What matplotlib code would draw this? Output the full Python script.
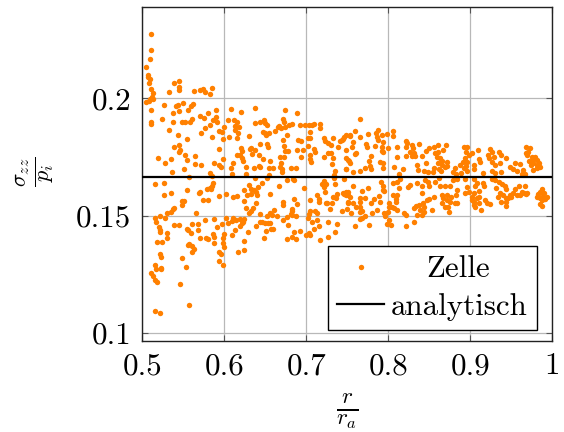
import matplotlib
matplotlib.use('Agg')
import matplotlib.pyplot as plt

plt.rcParams['font.family'] = ['cmr10', 'DejaVu Serif']
plt.rcParams['mathtext.fontset'] = 'cm'
plt.rcParams['axes.formatter.use_mathtext'] = True

# (r/r_a, sigma_zz/p_i)
zelle = [
    (.510,.2273),(.510,.2205),(.509,.2168),(.505,.2134),(.507,.2098),(.507,.2091),(.509,.2084),(.508,.2064),
    (.511,.2038),(.513,.2021),(.512,.2007),(.509,.1999),(.513,.1996),(.505,.1983),(.508,.1990),(.510,.1950),
    (.510,.1899),(.510,.1892),(.533,.2026),(.539,.2063),(.545,.2074),(.545,.2047),(.545,.2036),(.563,.2030),
    (.570,.2036),(.574,.2041),(.576,.2028),(.585,.2044),(.583,.2018),(.527,.1970),(.541,.1966),(.544,.1970),
    (.550,.1982),(.537,.1936),(.545,.1945),(.556,.1949),(.559,.1969),(.562,.1976),(.590,.1949),(.608,.1953),
    (.620,.1942),(.638,.1957),(.674,.1949),(.689,.1937),(.524,.1910),(.537,.1899),(.533,.1866),(.548,.1899),
    (.552,.1899),(.558,.1898),(.560,.1910),(.570,.1926),(.575,.1916),(.580,.1937),(.586,.1909),(.590,.1919),
    (.591,.1899),(.576,.1875),(.582,.1885),(.572,.1851),(.544,.1845),(.555,.1828),(.585,.1835),(.593,.1859),
    (.597,.1855),(.600,.1878),(.598,.1825),(.605,.1908),(.612,.1908),(.616,.1898),(.613,.1883),(.618,.1879),
    (.613,.1865),(.617,.1851),(.615,.1831),(.606,.1837),(.630,.1841),(.638,.1893),(.644,.1901),(.648,.1906),
    (.650,.1896),(.652,.1886),(.647,.1858),(.651,.1844),(.654,.1852),(.650,.1854),(.662,.1859),(.665,.1878),
    (.667,.1883),(.671,.1910),(.673,.1898),(.669,.1872),(.674,.1878),(.679,.1886),(.683,.1892),(.677,.1844),
    (.692,.1888),(.698,.1885),(.703,.1886),(.707,.1886),(.709,.1892),(.717,.1891),(.717,.1872),(.704,.1855),
    (.702,.1829),(.705,.1829),(.690,.1824),(.694,.1817),(.721,.1831),(.733,.1832),(.723,.1818),(.726,.1811),
    (.730,.1802),(.739,.1791),(.741,.1817),(.743,.1822),(.746,.1837),(.749,.1842),(.745,.1825),(.753,.1844),
    (.748,.1780),(.539,.1794),(.545,.1801),(.546,.1780),(.545,.1770),(.552,.1757),(.555,.1737),(.564,.1756),
    (.564,.1722),(.572,.1716),(.587,.1724),(.594,.1717),(.596,.1707),(.519,.1744),(.528,.1724),(.535,.1741),
    (.551,.1699),(.536,.1687),(.5565,.1665),(.582,.1682),(.585,.1670),(.593,.1785),(.599,.1741),(.608,.1702),
    (.611,.1726),(.609,.1679),(.615,.1758),(.620,.1787),(.622,.1776),(.619,.1758),(.621,.1744),(.623,.1734),
    (.627,.1706),(.627,.1679),(.632,.1790),(.631,.1783),(.634,.1764),(.638,.1781),(.642,.1757),(.644,.1807),
    (.652,.1805),(.653,.1793),(.647,.1740),(.636,.1702),(.642,.1713),(.643,.1709),(.656,.1733),(.654,.1702),
    (.659,.1704),(.638,.1662),(.655,.1673),(.668,.1751),(.673,.1750),(.672,.1821),(.673,.1798),(.674,.1777),
    (.678,.1777),(.669,.1723),(.668,.1709),(.670,.1699),(.670,.1686),(.681,.1702),(.687,.1704),(.689,.1778),
    (.696,.1781),(.693,.1749),(.702,.1798),(.704,.1757),(.705,.1740),(.706,.1727),(.709,.1783),(.711,.1773),
    (.721,.1751),(.727,.1766),(.730,.1768),(.733,.1746),(.731,.1719),(.735,.1689),(.734,.1673),(.748,.1744),
    (.751,.1737),(.749,.1699),(.734,.1659),(.684,.1656),
    (.516,.1633),(.527,.1640),(.527,.1586),(.535,.1595),(.554,.1608),(.570,.1602),(.5695,.1595),(.579,.1612),
    (.583,.1616),(.585,.1628),(.586,.1638),(.584,.1613),(.594,.1582),(.602,.1591),(.610,.1579),(.616,.1582),
    (.624,.1564),(.624,.1609),(.630,.1630),(.628,.1586),(.632,.1592),(.633,.1612),(.636,.1608),(.639,.1601),
    (.640,.1588),(.641,.1621),(.646,.1640),(.652,.1660),(.656,.1591),(.667,.1625),(.676,.1653),(.685,.1653),
    (.697,.1619),(.719,.1635),(.722,.1649),(.724,.1635),(.722,.1621),(.723,.1602),(.735,.1633),(.734,.1666),
    (.713,.1588),(.715,.1572),(.715,.1559),(.705,.1566),(.725,.1556),(.724,.1552),(.732,.1581),(.731,.1556),
    (.736,.1574),(.737,.1592),(.746,.1593),(.749,.1602),(.751,.1588),(.751,.1552),(.744,.1520),(.750,.1528),
    (.729,.1528),(.548,.1562),(.551,.1561),(.548,.1545),(.574,.1568),(.580,.1568),(.639,.1555),(.671,.1559),
    (.672,.1545),(.685,.1571),(.689,.1551),(.626,.1534),(.635,.1531),(.633,.1521),(.630,.1510),(.661,.1525),
    (.656,.1510),(.652,.1498),(.644,.1508),(.664,.1500),(.658,.1503),(.683,.1528),(.682,.1518),(.681,.1508),
    (.683,.1503),(.688,.1500),(.676,.1495),(.671,.1480),(.678,.1459),(.704,.1521),(.703,.1508),(.702,.1491),
    (.711,.1520),(.713,.1510),(.707,.1473),(.713,.1481),(.716,.1454),(.726,.1474),(.737,.1464),(.709,.1442),
    (.703,.1424),(.700,.1416),(.704,.1419),(.735,.1429),(.727,.1409),(.717,.1397),(.692,.1433),(.685,.1429),
    (.682,.1407),(.677,.1400),(.688,.1399),(.659,.1443),(.657,.1443),(.651,.1434),(.648,.1403),(.639,.1457),
    (.644,.1474),(.646,.1471),(.650,.1470),(.653,.1467),(.656,.1467),(.629,.1430),(.613,.1439),(.609,.1419),
    (.619,.1456),(.621,.1467),(.624,.1484),(.623,.1473),(.619,.1484),(.614,.1481),(.610,.1491),(.609,.1478),
    (.605,.1470),(.602,.1491),(.597,.1463),(.591,.1453),(.588,.1485),(.577,.1483),(.565,.1510),(.561,.1463),
    (.568,.1463),(.568,.1437),(.554,.1444),(.556,.1439),(.559,.1427),(.539,.1460),(.545,.1460),(.530,.1427),
    (.530,.1404),(.521,.1438),(.520,.1453),(.522,.1429),(.517,.1474),(.516,.1491),(.521,.1497),(.528,.1491),
    (.530,.1510),(.535,.1514),(.537,.1528),(.539,.1534),(.518,.1389),(.524,.1389),(.522,.1336),(.523,.1322),
    (.515,.1291),(.517,.1272),(.523,.1278),(.523,.1272),(.511,.1257),(.513,.1243),(.516,.1225),(.518,.1218),
    (.546,.1210),(.548,.1321),(.553,.1281),(.557,.1380),(.556,.1375),(.561,.1370),(.563,.1356),(.561,.1345),
    (.570,.1403),(.578,.1403),(.580,.1400),(.586,.1420),(.587,.1410),(.587,.1383),(.598,.1403),(.600,.1420),
    (.599,.1382),(.600,.1368),(.594,.1345),(.596,.1335),(.594,.1305),(.598,.1289),(.617,.1346),(.624,.1355),
    (.624,.1393),(.515,.1095),(.521,.1086),(.557,.1118),
    (.766,.1913),(.759,.1859),(.765,.1835),(.775,.1848),(.785,.1853),(.787,.1865),(.792,.1843),(.798,.1846),
    (.806,.1859),(.806,.1841),(.786,.1834),(.788,.1822),(.793,.1815),(.773,.1804),(.774,.1794),(.784,.1797),
    (.792,.1794),(.792,.1777),(.793,.1772),(.800,.1787),(.779,.1754),(.776,.1731),(.778,.1713),(.779,.1697),
    (.772,.1701),(.765,.1689),(.757,.1684),(.790,.1727),(.793,.1723),(.794,.1704),(.756,.1791),(.761,.1768),
    (.759,.1761),(.757,.1815),(.753,.1839),(.752,.1733),(.753,.1723),(.748,.1697),(.807,.1706),(.810,.1751),
    (.811,.1791),(.821,.1819),(.823,.1808),(.821,.1791),(.821,.1755),(.829,.1801),(.837,.1804),(.830,.1787),
    (.827,.1772),(.831,.1765),(.829,.1754),(.833,.1754),(.841,.1754),(.846,.1774),(.850,.1790),(.856,.1794),
    (.861,.1800),(.870,.1802),(.835,.1717),(.846,.1723),(.836,.1694),(.843,.1692),(.849,.1687),(.818,.1697),
    (.813,.1677),(.856,.1702),(.855,.1687),(.862,.1699),(.869,.1708),(.872,.1711),(.864,.1690),(.857,.1768),
    (.861,.1773),(.867,.1780),(.859,.1751),(.863,.1744),(.865,.1733),(.871,.1730),(.861,.1723),(.865,.1716),
    (.881,.1701),(.879,.1687),(.883,.1677),(.892,.1701),(.889,.1683),(.896,.1692),(.892,.1791),(.896,.1791),
    (.895,.1773),(.898,.1758),(.902,.1765),(.894,.1744),(.891,.1730),(.888,.1716),(.896,.1730),(.895,.1711),
    (.909,.1780),(.910,.1740),(.912,.1728),(.905,.1717),(.904,.1699),(.915,.1683),(.924,.1782),(.927,.1773),
    (.922,.1758),(.929,.1751),(.923,.1744),(.926,.1730),(.930,.1716),(.935,.1773),(.938,.1758),(.943,.1744),
    (.936,.1723),(.938,.1687),(.927,.1690),(.930,.1680),(.955,.1723),(.949,.1708),(.961,.1720),(.952,.1699),
    (.957,.1690),(.964,.1694),(.967,.1677),(.963,.1677),(.968,.1794),(.973,.1787),(.970,.1773),(.968,.1765),
    (.975,.1751),(.979,.1748),(.981,.1737),(.984,.1726),(.985,.1709),(.981,.1701),(.977,.1694),(.974,.1716),
    (.977,.1726),(.972,.1733),(.969,.1758),(.977,.1740),(.981,.1716),
    (.746,.1657),(.757,.1628),(.775,.1616),(.768,.1603),(.751,.1602),(.745,.1595),(.749,.1588),(.753,.1581),
    (.765,.1574),(.772,.1576),(.765,.1559),(.751,.1559),(.757,.1552),(.760,.1535),(.766,.1538),(.768,.1521),
    (.766,.1517),(.755,.1510),(.780,.1512),(.786,.1524),(.779,.1552),(.783,.1572),(.789,.1585),(.790,.1559),
    (.791,.1642),(.793,.1626),(.794,.1609),(.795,.1605),(.806,.1637),(.811,.1645),(.814,.1655),(.813,.1619),
    (.806,.1588),(.811,.1588),(.809,.1571),(.809,.1557),(.804,.1538),(.801,.1552),(.801,.1535),(.800,.1517),
    (.795,.1510),(.796,.1498),(.771,.1500),(.768,.1488),(.765,.1484),(.759,.1457),(.776,.1460),(.801,.1481),
    (.799,.1464),(.803,.1461),(.822,.1456),(.831,.1473),(.819,.1510),(.822,.1503),(.811,.1524),(.807,.1531),
    (.831,.1531),(.834,.1541),(.838,.1547),(.842,.1552),(.844,.1538),(.839,.1524),(.835,.1503),(.841,.1503),
    (.843,.1517),(.853,.1524),(.824,.1621),(.827,.1630),(.835,.1640),(.841,.1626),(.845,.1652),(.850,.1626),
    (.849,.1645),(.857,.1645),(.862,.1659),(.841,.1595),(.863,.1628),(.869,.1628),(.875,.1626),(.884,.1609),
    (.883,.1588),(.877,.1581),(.872,.1588),(.847,.1566),(.850,.1573),(.856,.1578),(.865,.1588),(.867,.1574),
    (.865,.1552),(.871,.1566),(.875,.1559),(.873,.1538),(.874,.1517),(.881,.1552),(.884,.1552),(.869,.1535),
    (.879,.1652),(.884,.1655),(.894,.1655),(.904,.1655),(.896,.1620),(.898,.1602),(.894,.1595),(.908,.1637),
    (.906,.1626),(.916,.1640),(.917,.1626),(.911,.1606),(.904,.1595),(.902,.1581),(.902,.1567),(.904,.1559),
    (.908,.1574),(.910,.1581),(.904,.1545),(.906,.1535),(.910,.1552),(.913,.1524),(.918,.1567),(.920,.1552),
    (.924,.1548),(.926,.1655),(.930,.1652),(.935,.1645),(.939,.1635),(.942,.1626),(.931,.1616),(.944,.1612),
    (.936,.1595),(.934,.1581),(.940,.1588),(.944,.1574),(.938,.1559),(.944,.1541),(.944,.1559),(.950,.1581),
    (.952,.1595),(.955,.1612),(.959,.1626),(.963,.1602),(.957,.1588),(.968,.1592),(.967,.1628),(.969,.1595),
    (.946,.1574),(.948,.1588),(.961,.1588),(.965,.1598),(.987,.1612),(.985,.1602),(.983,.1591),(.981,.1581),
    (.985,.1574),(.989,.1581),(.993,.1581),(.990,.1595),(.987,.1567),(.985,.1549),(.987,.1541),(.991,.1569),
    (.988,.1598),
]
r_zelle = [p[0] for p in zelle]
s_zelle = [p[1] for p in zelle]

r_analytisch = [0.5, 1.0]
s_analytisch = [0.16667, 0.16667]

x_ticks = [0.5, 0.6, 0.7, 0.8, 0.9, 1.0]
x_labels = ['0.5', '0.6', '0.7', '0.8', '0.9', '1']
y_ticks = [0.1, 0.15, 0.2]
y_labels = ['0.1', '0.15', '0.2']

fig = plt.figure(figsize=(5.64, 4.32), dpi=100)
ax = fig.add_axes([142.3 / 564, 91 / 432, 410 / 564, 334.5 / 432])

ax.plot(r_zelle, s_zelle, 'o', color='#ff8000', ms=3.9, mew=0, label='Zelle', zorder=3)
ax.plot(r_analytisch, s_analytisch, color='black', lw=1.6, label='analytisch', zorder=4)

ax.set_xlim(0.5, 1.0)
ax.set_ylim(0.0966, 0.2391)
ax.set_xticks(x_ticks, x_labels)
ax.set_yticks(y_ticks, y_labels)
ax.tick_params(which='both', direction='in', top=True, right=True, length=4.5, width=0.8,
               color='#555555', labelsize=22.3, pad=8)
ax.grid(True, color='#b8b8b8', lw=0.9)
ax.set_axisbelow(True)
for s in ax.spines.values():
    s.set_linewidth(1.0)
    s.set_color('#222222')

fig.text(347 / 564, 1 - 411 / 432, r'$\frac{r}{r_a}$', fontsize=24, ha='center', va='center')
fig.text(35 / 564, 1 - 172 / 432, r'$\frac{\sigma_{zz}}{p_i}$', fontsize=23, ha='center', va='center', rotation=90)

leg = ax.legend(loc='lower left', bbox_to_anchor=((328 - 142.3) / 410, (341 - 330) / 334.5), borderaxespad=0,
                fontsize=22.3, fancybox=False, framealpha=1, edgecolor='black', handlelength=1.5,
                handletextpad=0.22, borderpad=0.3, labelspacing=0.3, markerscale=1)
leg.get_frame().set_linewidth(1.0)
leg.set_zorder(5)
leg.get_texts()[0].set_position((36, 0))

fig.savefig('out.png', dpi=100)
